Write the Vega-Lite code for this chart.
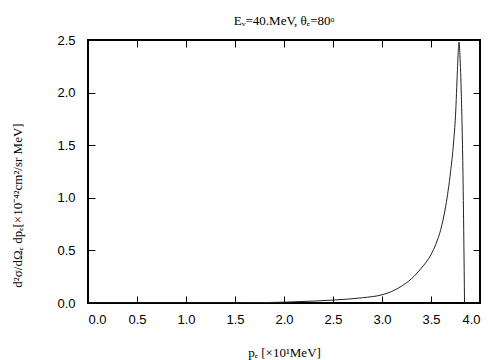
{
  "$schema": "https://vega.github.io/schema/vega-lite/v6.json",
  "autosize": "none",
  "width": 392,
  "height": 263,
  "padding": {"left": 88, "top": 40, "right": 24, "bottom": 57},
  "background": "white",
  "config": {
    "view": {"stroke": "black", "strokeWidth": 2},
    "axis": {"grid": false, "domain": false, "labelFont": "Liberation Sans", "labelFontSize": 13, "labelColor": "black", "tickColor": "black", "tickSize": -7, "tickWidth": 1, "titleFont": "Liberation Serif", "titleFontWeight": "normal", "titleFontSize": 13, "titleColor": "black"}
  },
  "title": {"text": "Eᵥ=40.MeV, θₑ=80ᵒ", "font": "Liberation Serif", "fontSize": 13, "fontWeight": "normal", "color": "black", "offset": 6, "anchor": "middle"},
  "data": {"values": [
    {"p": 0.0, "v": 0.0},
    {"p": 1.0, "v": 0.0},
    {"p": 1.5, "v": 0.001},
    {"p": 2.0, "v": 0.008},
    {"p": 2.3, "v": 0.018},
    {"p": 2.5, "v": 0.028},
    {"p": 2.8, "v": 0.05},
    {"p": 3.0, "v": 0.078},
    {"p": 3.1, "v": 0.11},
    {"p": 3.2, "v": 0.16},
    {"p": 3.3, "v": 0.23},
    {"p": 3.4, "v": 0.33},
    {"p": 3.5, "v": 0.46},
    {"p": 3.55, "v": 0.56},
    {"p": 3.6, "v": 0.7},
    {"p": 3.65, "v": 0.92},
    {"p": 3.7, "v": 1.25},
    {"p": 3.73, "v": 1.52},
    {"p": 3.75, "v": 1.78},
    {"p": 3.77, "v": 2.22},
    {"p": 3.78, "v": 2.42},
    {"p": 3.786, "v": 2.48},
    {"p": 3.795, "v": 2.36},
    {"p": 3.81, "v": 1.96},
    {"p": 3.825, "v": 1.3},
    {"p": 3.835, "v": 0.6},
    {"p": 3.842, "v": 0.0}
  ]},
  "layer": [
    {
      "mark": {"type": "line", "color": "#222", "strokeWidth": 1, "clip": true, "interpolate": "monotone"},
      "encoding": {
        "x": {"field": "p", "type": "quantitative", "scale": {"domain": [0, 4], "nice": false, "zero": false},
              "axis": {"orient": "bottom", "values": [0, 0.5, 1, 1.5, 2, 2.5, 3, 3.5, 4], "format": ".1f", "labelPadding": 17, "title": "pₑ [×10¹MeV]", "titleY": 43, "titleX": 196}},
        "y": {"field": "v", "type": "quantitative", "scale": {"domain": [0, 2.5], "nice": false},
              "axis": {"orient": "left", "values": [0, 0.5, 1, 1.5, 2, 2.5], "format": ".1f", "labelPadding": 20, "title": "d²σ/dΩₑ dpₑ[×10⁻⁴²cm²/sr MeV]", "titleX": -64, "titleY": 165, "titleAngle": 270}}
      }
    },
    {
      "mark": {"type": "line", "opacity": 0},
      "encoding": {
        "x": {"field": "p", "type": "quantitative", "scale": {"domain": [0, 4], "nice": false, "zero": false},
              "axis": {"orient": "top", "values": [0, 0.5, 1, 1.5, 2, 2.5, 3, 3.5, 4], "labels": false, "title": null}},
        "y": {"field": "v", "type": "quantitative", "scale": {"domain": [0, 2.5], "nice": false},
              "axis": {"orient": "right", "values": [0, 0.5, 1, 1.5, 2, 2.5], "labels": false, "title": null}}
      }
    }
  ],
  "resolve": {"axis": {"x": "independent", "y": "independent"}}
}
